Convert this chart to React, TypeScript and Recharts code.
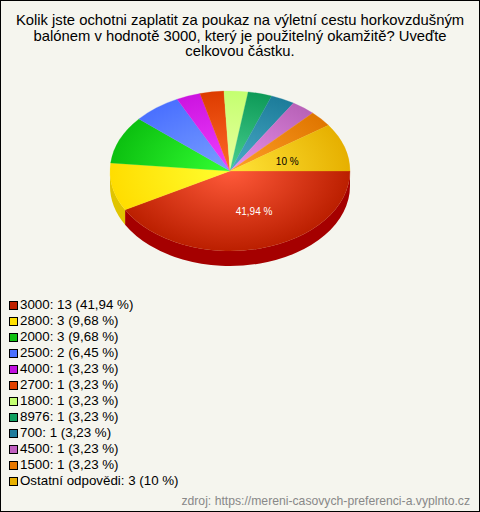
import React from 'react';
import { PieChart, Pie, Legend, Cell } from 'recharts';

const titleLines = [
  'Kolik jste ochotni zaplatit za poukaz na výletní cestu horkovzdušným',
  'balónem v hodnotě 3000, který je použitelný okamžitě? Uveďte',
  'celkovou částku.',
];
const categories = ['3000', '2800', '2000', '2500', '4000', '2700', '1800', '8976', '700', '4500', '1500', 'Ostatní odpovědi'];
const counts = [13, 3, 3, 2, 1, 1, 1, 1, 1, 1, 1, 3];
const shares = ['41,94', '9,68', '9,68', '6,45', '3,23', '3,23', '3,23', '3,23', '3,23', '3,23', '3,23', '10'];
const sliceLabels = ['41,94 %', '', '', '', '', '', '', '', '', '', '', '10 %'];
const sourceText = 'zdroj: https://mereni-casovych-preferenci-a.vyplnto.cz';

const outerColors = ['#bb1f00', '#ffdd00', '#0cc010', '#4a70ff', '#cc14e0', '#dd3c00', '#c4ff70', '#0e9a58', '#1c7c9a', '#b862b8', '#e07600', '#e6b000'];
const innerColors = ['#ff5a3a', '#ffff30', '#33ff33', '#7aa0ff', '#f040ff', '#ff6a28', '#eaffa0', '#48d090', '#4cacc8', '#ea92ea', '#ffa028', '#ffe438'];
const swatchColors = ['#c02000', '#ffe000', '#10c010', '#4a70ff', '#c010e0', '#e04000', '#c4ff70', '#10a060', '#207c9c', '#c060c0', '#e87800', '#e8b000'];
const wallColors = ['#a50000', '#e0c400'];

const FONT = '"Liberation Sans", Arial, sans-serif';
const CX = 230;
const CY = 171;
const RX = 120;
const RY = 80;
const DEPTH = 15;

const rows = categories.map((name, i) => ({
  name,
  value: counts[i],
  share: shares[i],
  sliceLabel: sliceLabels[i],
  fill: swatchColors[i],
}));

const px = (deg: number) => CX + RX * Math.cos((deg * Math.PI) / 180);
const py = (deg: number) => CY - RY * Math.sin((deg * Math.PI) / 180);

function EllipticSlice(props: any) {
  const { startAngle, endAngle, index } = props;
  const a0 = Math.max(startAngle, endAngle);
  const a1 = Math.min(startAngle, endAngle);
  const large = a0 - a1 > 180 ? 1 : 0;
  const top = `M${CX},${CY}L${px(a0)},${py(a0)}A${RX},${RY} 0 ${large} 1 ${px(a1)},${py(a1)}Z`;
  // wall only exists on the front half of the ellipse
  const w0 = Math.min(a0, 0);
  const w1 = Math.max(a1, -180);
  let wall = null;
  if (w0 > w1) {
    const d =
      `M${px(w0)},${py(w0)}A${RX},${RY} 0 0 1 ${px(w1)},${py(w1)}` +
      `L${px(w1)},${py(w1) + DEPTH}A${RX},${RY} 0 0 0 ${px(w0)},${py(w0) + DEPTH}Z`;
    wall = <path d={d} fill={wallColors[index] ?? wallColors[0]} />;
  }
  return (
    <g>
      {wall}
      <path d={top} fill={`url(#slice-${index})`} stroke={`url(#slice-${index})`} strokeWidth={0.3} />
    </g>
  );
}

function SliceLabel(props: any) {
  const { midAngle, index } = props;
  const text = sliceLabels[index];
  if (!text) return null;
  const x = CX + RX * 0.5 * Math.cos((midAngle * Math.PI) / 180) + (index === 0 ? 9 : 0);
  const y = CY - RY * 0.5 * Math.sin((midAngle * Math.PI) / 180) + (index === 0 ? 3 : 3);
  return (
    <text x={x} y={y} textAnchor="middle" dominantBaseline="middle" fontFamily={FONT} fontSize={10}
      fill={index === 0 ? '#ffffff' : '#000000'}>
      {text}
    </text>
  );
}

function LegendList() {
  return (
    <div style={{ fontFamily: FONT, fontSize: 13.33, color: '#000' }}>
      {rows.map((r) => (
        <div key={r.name} style={{ height: 16, lineHeight: '16px', display: 'flex', alignItems: 'center', whiteSpace: 'nowrap' }}>
          <span style={{ width: 7, height: 7, border: '1px solid #000', background: r.fill, marginRight: 2, flex: 'none' }} />
          <span>{`${r.name}: ${r.value} (${r.share} %)`}</span>
        </div>
      ))}
    </div>
  );
}

export default function App() {
  return (
    <div style={{ position: 'absolute', left: 0, top: 0, width: 480, height: 512, boxSizing: 'border-box', border: '1px solid #000', background: '#f5f5ee', overflow: 'hidden' }}>
      <div style={{ position: 'absolute', left: -1, top: 12, width: 480, textAlign: 'center', fontFamily: FONT, fontSize: 14.8, lineHeight: '15.7px', color: '#000' }}>
        {titleLines.map((l) => <div key={l}>{l}</div>)}
      </div>
      <div style={{ position: 'absolute', left: -1, top: -1 }}>
        <PieChart width={480} height={512}>
          <defs>
            {categories.map((_, i) => (
              <radialGradient key={i} id={`slice-${i}`} gradientUnits="userSpaceOnUse" cx={0} cy={0} r={1}
                gradientTransform={`translate(${CX} ${CY}) scale(${RX} ${RY})`}>
                <stop offset="0%" stopColor={innerColors[i]} />
                <stop offset="100%" stopColor={outerColors[i]} />
              </radialGradient>
            ))}
          </defs>
          <Pie
            data={rows}
            dataKey="value"
            nameKey="name"
            cx={CX}
            cy={CY}
            innerRadius={0}
            outerRadius={RX}
            startAngle={0}
            endAngle={-360}
            paddingAngle={0}
            stroke="none"
            isAnimationActive={false}
            shape={EllipticSlice}
            label={SliceLabel}
            labelLine={false}
          >
            {rows.map((r) => <Cell key={r.name} fill={r.fill} />)}
          </Pie>
          <Legend layout="vertical" align="left" verticalAlign="top" content={<LegendList />}
            wrapperStyle={{ left: 9, top: 297, width: 300 }} />
        </PieChart>
      </div>
      <div style={{ position: 'absolute', right: 9, top: 493, fontFamily: FONT, fontSize: 12.2, lineHeight: '15px', color: '#888' }}>
        {sourceText}
      </div>
    </div>
  );
}
